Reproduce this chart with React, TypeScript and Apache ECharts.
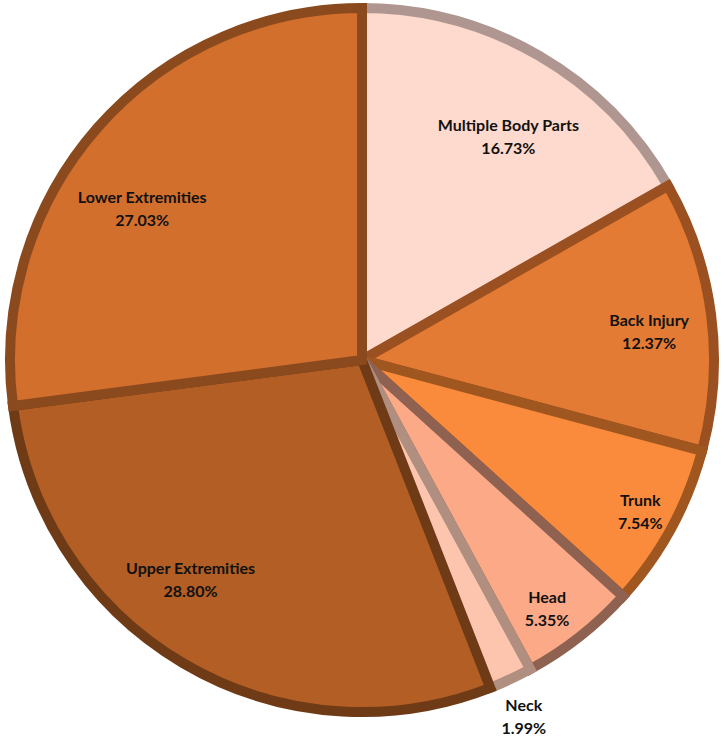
import React, { useEffect, useRef } from "react";
import * as echarts from "echarts";

const categories = [
  "Multiple Body Parts",
  "Back Injury",
  "Trunk",
  "Head",
  "Neck",
  "Upper Extremities",
  "Lower Extremities",
];
const values = [16.73, 12.37, 7.54, 5.35, 1.99, 28.8, 27.03];
const fillColors = ["#FED9CD", "#E47B35", "#FA8B3C", "#FCA988", "#FDC4AE", "#B35E24", "#D36F2D"];
const borderColors = ["#B09690", "#9A5020", "#A0561F", "#8E6150", "#B08E80", "#6F3A16", "#8B4A1E"];
// label placement style: radius factor and angle offset (deg)
const labelRadiusFactor = [0.76, 0.82, 0.9, 0.88, 1.11, 0.79, 0.76];
const labelAngleOffset = [3, 1.5, 0, 1.5, 0.5, 7.5, -6.5];

export default function App() {
  const ref = useRef<HTMLDivElement>(null);
  useEffect(() => {
    document.body.style.margin = "0";
    if (!ref.current) return;
    const chart = echarts.init(ref.current, undefined, { renderer: "svg" });
    const W = 725;
    const H = 739;
    const cx = 362;
    const cy = 360;
    const R = 352;
    const total = values.reduce((a, b) => a + b, 0);
    const cum: number[] = [];
    let acc = 0;
    values.forEach((v) => {
      cum.push(acc);
      acc += v;
    });
    chart.setOption({
      animation: false,
      backgroundColor: "#ffffff",
      series: [
        {
          type: "pie",
          center: [(cx / W) * 100 + "%", (cy / H) * 100 + "%"],
          radius: [0, R],
          startAngle: 90,
          clockwise: true,
          avoidLabelOverlap: false,
          labelLine: { show: false },
          label: {
            show: true,
            position: "inside",
            formatter: (p: any) => `${p.name}\n${p.value.toFixed(2)}%`,
            fontFamily: "Lato, 'Open Sans', sans-serif",
            fontWeight: "bold",
            fontSize: 16,
            lineHeight: 23,
            color: "#111111",
            align: "center",
          },
          labelLayout: (params: any) => {
            const i = params.dataIndex;
            const mid = ((cum[i] + values[i] / 2) / total) * 360 + labelAngleOffset[i];
            const rad = (mid * Math.PI) / 180;
            const r = R * labelRadiusFactor[i];
            return {
              x: cx + r * Math.sin(rad),
              y: cy - r * Math.cos(rad),
              align: "center",
              verticalAlign: "middle",
            };
          },
          emphasis: { disabled: true },
          data: categories.map((name, i) => ({
            name,
            value: values[i],
            itemStyle: {
              color: fillColors[i],
              borderColor: borderColors[i],
              borderWidth: 10,
              borderJoin: "miter",
            },
          })),
        },
      ],
    });
    return () => chart.dispose();
  }, []);
  return <div ref={ref} style={{ width: 725, height: 739 }} />;
}
